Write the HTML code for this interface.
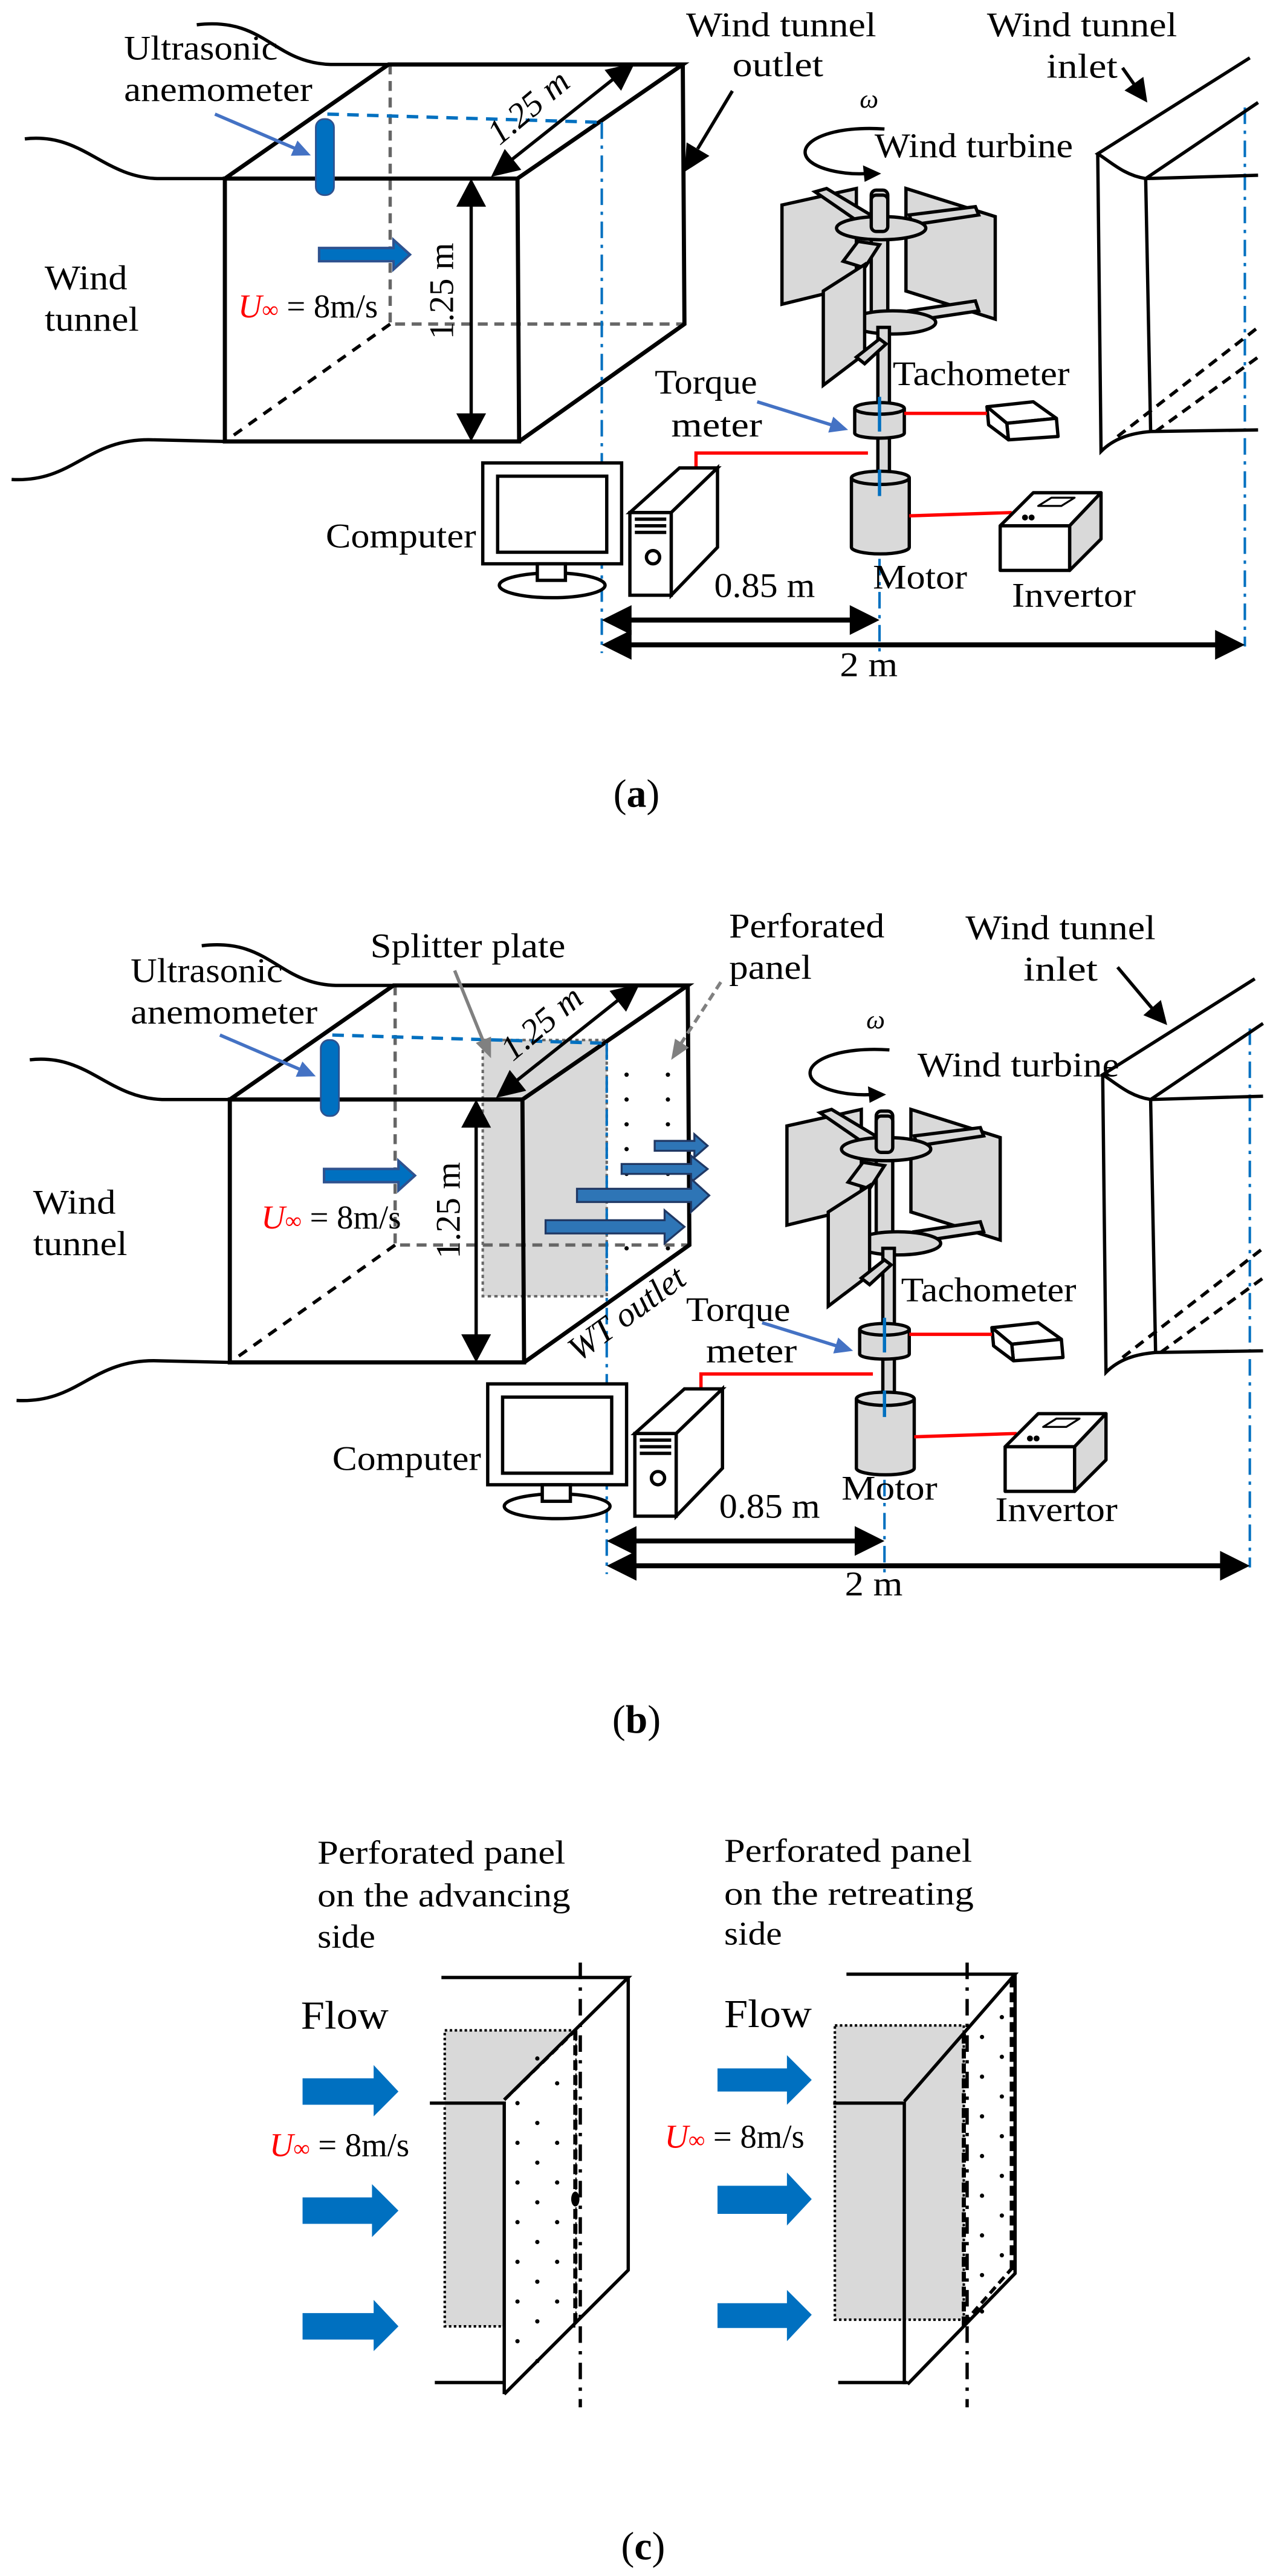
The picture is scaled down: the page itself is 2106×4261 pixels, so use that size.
<!DOCTYPE html>
<html><head><meta charset="utf-8"><style>
html,body{margin:0;padding:0;background:#fff;}
svg{display:block;width:2106px;height:4261px;}
text{font-family:"Liberation Serif",serif;fill:#000;}
</style></head><body>
<svg width="2106" height="4261" viewBox="0 0 770 1558" xmlns="http://www.w3.org/2000/svg">
<rect x="0" y="0" width="770" height="1558" fill="#fff"/>

<!-- ===== Panel a apparatus ===== -->
<g>
 <g fill="none" stroke="#000" stroke-width="2">
  <path d="M119,15 C160,10 165,38 200,39 L235,39"/>
  <path d="M15,84 C50,80 62,107 95,108 L136,108"/>
  <path d="M7,290 C45,292 52,265 92,266 L136,267"/>
 </g>
 <path d="M236,39 V196 H414" fill="none" stroke="#666" stroke-width="2" stroke-dasharray="6,4"/>
 <path d="M236,196 L136,267" fill="none" stroke="#000" stroke-width="2" stroke-dasharray="6,5"/>
 <g fill="none" stroke="#000" stroke-width="2.5">
  <path d="M136,108 H313 L314,267 H136 Z"/>
  <path d="M136,108 L235,39 H413 L313,108"/>
  <path d="M413,39 L414,196 L314,267"/>
 </g>
 <path d="M198,69 L364,74" stroke="#0070c0" stroke-width="2" stroke-dasharray="7,5" fill="none"/>
 <g stroke="#0070c0" stroke-width="1.5" stroke-dasharray="10,4,2,4" fill="none">
  <path d="M364,74 V395"/><path d="M532,238 V395"/><path d="M753,65 V391"/>
 </g>
 <rect x="191" y="72" width="11" height="46" rx="5" fill="#0070c0" stroke="#2f528f" stroke-width="1"/>
 <line x1="130" y1="69" x2="178" y2="89.6" stroke="#4472c4" stroke-width="2"/>
 <polygon points="188,94 179.9,85 175.9,94.2" fill="#4472c4"/>
 <polygon points="193,150 238,150 238,145 248,154 238,163 238,158 193,158" fill="#0070c0" stroke="#2f528f" stroke-width="1.5"/>
 <line x1="285" y1="124" x2="285" y2="251" stroke="#000" stroke-width="2"/>
 <polygon points="285,108 276,125 294,125"/><polygon points="285,267 276,250 294,250"/>
 <line x1="309" y1="97" x2="372" y2="47" stroke="#000" stroke-width="2"/>
 <polygon points="384,38 375.7,54.9 365.7,42.3"/><polygon points="297,107 315.3,102.7 305.3,90.1"/>
 <g stroke="#000" stroke-width="2" fill="#d9d9d9">
  <polygon points="473,124 518,114 518,173 473,184"/>
  <polygon points="493,116 500,114 530,132 522,136"/>
  <polygon points="548,114 602,131 602,193 548,176"/>
  <polygon points="550,130 590,125 592,130 552,136"/>
  <polygon points="550,188 590,182 592,188 552,194"/>
  <rect x="527" y="115" width="10" height="85" rx="3"/>
  <ellipse cx="533" cy="138" rx="27" ry="7"/>
  <rect x="527" y="118" width="10" height="22" rx="3"/>
  <ellipse cx="540" cy="195" rx="26" ry="7"/>
  <rect x="531" y="198" width="7" height="92"/>
  <polygon points="510,158 519,146 532,148 523,162"/>
  <polygon points="498,176 523,160 523,214 498,233"/>
  <polygon points="518,216 532,205 536,208 523,220"/>
  <path d="M517,247 V262 A15,3 0 0 0 547,262 V247"/>
  <ellipse cx="532" cy="247" rx="15" ry="3.5"/>
  <path d="M515,289 V331 A17.5,4 0 0 0 550,331 V289"/>
  <ellipse cx="532.5" cy="289" rx="17.5" ry="4"/>
 </g>
 <line x1="532" y1="240" x2="532" y2="261" stroke="#0070c0" stroke-width="2"/>
 <line x1="532" y1="284" x2="532" y2="300" stroke="#0070c0" stroke-width="2"/>
 <line x1="458" y1="243" x2="503" y2="257" stroke="#4472c4" stroke-width="2"/>
 <polygon points="513,260 501,261.6 504,252" fill="#4472c4"/>
 <g stroke="#000" stroke-width="2" fill="#fff" stroke-linejoin="round">
  <polygon points="597,246 625,243 639,253 609,256"/>
  <polygon points="609,256 639,253 640,264 610,266"/>
  <polygon points="597,246 609,256 610,266 598,257"/>
 </g>
 <g stroke="#f00" stroke-width="2" fill="none">
  <path d="M547,250 H597"/><path d="M421,283 V274 H525"/><path d="M550,312 L612,310"/>
 </g>
 <g stroke="#000" stroke-width="2" stroke-linejoin="round">
  <polygon points="605,318 625,298 666,298 647,318" fill="#fff"/>
  <polygon points="647,318 666,298 666,326 647,345" fill="#d9d9d9"/>
  <rect x="605" y="318" width="42" height="27" fill="#fff"/>
  <polygon points="628,306 636,301 650,301 642,306" fill="#fff" stroke-width="1.2"/>
 </g>
 <circle cx="620" cy="313" r="1.8"/><circle cx="624" cy="313" r="1.8"/>
 <g stroke="#000" stroke-width="2" fill="#fff">
  <rect x="292" y="280" width="84" height="61"/>
  <rect x="301" y="288" width="66" height="46"/>
  <ellipse cx="334" cy="354" rx="32" ry="7.5"/>
  <rect x="325" y="341" width="17" height="10"/>
  <polygon points="381,310 411,283 434,283 406,310"/>
  <polygon points="406,310 434,283 434,331 406,360"/>
  <rect x="381" y="310" width="25" height="50"/>
  <line x1="384" y1="314" x2="403" y2="314"/><line x1="384" y1="318" x2="403" y2="318"/><line x1="384" y1="322" x2="403" y2="322"/>
  <circle cx="395" cy="337" r="4"/>
 </g>
 <line x1="380" y1="375" x2="516" y2="375" stroke="#000" stroke-width="3"/>
 <polygon points="364,375 382,366 382,384"/><polygon points="532,375 514,366 514,384"/>
 <line x1="380" y1="390" x2="737" y2="390" stroke="#000" stroke-width="3"/>
 <polygon points="364,390 382,381 382,399"/><polygon points="753,390 735,381 735,399"/>
 <g fill="none" stroke="#000" stroke-width="2">
  <path d="M756,35 L664,93 C672,98 680,106 693,108 L761,106"/>
  <path d="M693,108 L761,62"/>
  <path d="M664,93 L666,273 C674,265 684,262 696,261 L761,260"/>
  <path d="M693,108 L696,261"/>
 </g>
 <g fill="none" stroke="#000" stroke-width="2" stroke-dasharray="6,4">
  <path d="M676,264 L761,198"/><path d="M699,261 L761,216"/>
 </g>
</g>

<g font-size="21">
 <text x="75" y="36" textLength="93" lengthAdjust="spacingAndGlyphs">Ultrasonic</text>
 <text x="75" y="61" textLength="114" lengthAdjust="spacingAndGlyphs">anemometer</text>
 <text x="415" y="22" textLength="115" lengthAdjust="spacingAndGlyphs">Wind tunnel</text>
 <text x="443" y="46" textLength="55" lengthAdjust="spacingAndGlyphs">outlet</text>
 <text x="597" y="22" textLength="115" lengthAdjust="spacingAndGlyphs">Wind tunnel</text>
 <text x="633" y="47" textLength="43" lengthAdjust="spacingAndGlyphs">inlet</text>
 <text x="27" y="175" textLength="50" lengthAdjust="spacingAndGlyphs">Wind</text>
 <text x="27" y="200" textLength="57" lengthAdjust="spacingAndGlyphs">tunnel</text>
 <text x="520" y="65" font-style="italic" font-size="16">ω</text>
 <text x="529" y="95" textLength="120" lengthAdjust="spacingAndGlyphs">Wind turbine</text>
 <text x="144" y="192" font-size="20"><tspan fill="#f00" font-style="italic">U</tspan><tspan fill="#f00" font-size="14">∞</tspan> = 8m/s</text>
 <text transform="translate(274,176) rotate(-90)" text-anchor="middle">1.25 m</text>
 <text transform="translate(324,70) rotate(-40)" text-anchor="middle" font-style="italic">1.25 m</text>
 <text x="396" y="238" textLength="62" lengthAdjust="spacingAndGlyphs">Torque</text>
 <text x="406" y="264" textLength="55" lengthAdjust="spacingAndGlyphs">meter</text>
 <text x="540" y="233" textLength="107" lengthAdjust="spacingAndGlyphs">Tachometer</text>
 <text x="528" y="356" textLength="57" lengthAdjust="spacingAndGlyphs">Motor</text>
 <text x="612" y="367" textLength="75" lengthAdjust="spacingAndGlyphs">Invertor</text>
 <text x="197" y="331" textLength="91" lengthAdjust="spacingAndGlyphs">Computer</text>
 <text x="432" y="361" textLength="61" lengthAdjust="spacingAndGlyphs">0.85 m</text>
 <text x="508" y="409" textLength="35" lengthAdjust="spacingAndGlyphs">2 m</text>
</g>
<line x1="443" y1="55" x2="422" y2="90" stroke="#000" stroke-width="2"/>
<polygon points="414,104 415.3,86.1 429.1,94.3"/>
<line x1="679" y1="41" x2="686" y2="51" stroke="#000" stroke-width="2"/>
<polygon points="694,62 680.2,54.7 691.6,46.5"/>
<path d="M535,78 C505,76 487,84 487,92 C487,101 508,106 524,105" fill="none" stroke="#000" stroke-width="2"/>
<polygon points="533,105 522,100 523,110"/>
<text x="385" y="488" font-size="24" text-anchor="middle">(<tspan font-weight="bold">a</tspan>)</text>

<!-- ===== Panel b ===== -->
<rect x="292" y="629" width="75" height="155" fill="#d9d9d9" stroke="#666" stroke-width="1.5" stroke-dasharray="2,2"/>
<g fill="#000">
 <circle cx="379" cy="650" r="1.3"/><circle cx="404" cy="650" r="1.3"/>
 <circle cx="379" cy="665" r="1.3"/><circle cx="404" cy="665" r="1.3"/>
 <circle cx="379" cy="680" r="1.3"/><circle cx="404" cy="680" r="1.3"/>
 <circle cx="379" cy="695" r="1.3"/><circle cx="404" cy="695" r="1.3"/>
 <circle cx="379" cy="710" r="1.3"/><circle cx="404" cy="710" r="1.3"/>
 <circle cx="379" cy="725" r="1.3"/><circle cx="404" cy="725" r="1.3"/>
 <circle cx="379" cy="740" r="1.3"/><circle cx="404" cy="740" r="1.3"/>
 <circle cx="379" cy="755" r="1.3"/><circle cx="404" cy="755" r="1.3"/>
</g>
<g transform="translate(3,557)">
 <g fill="none" stroke="#000" stroke-width="2">
  <path d="M119,15 C160,10 165,38 200,39 L235,39"/>
  <path d="M15,84 C50,80 62,107 95,108 L136,108"/>
  <path d="M7,290 C45,292 52,265 92,266 L136,267"/>
 </g>
 <path d="M236,39 V196 H414" fill="none" stroke="#666" stroke-width="2" stroke-dasharray="6,4"/>
 <path d="M236,196 L136,267" fill="none" stroke="#000" stroke-width="2" stroke-dasharray="6,5"/>
 <g fill="none" stroke="#000" stroke-width="2.5">
  <path d="M136,108 H313 L314,267 H136 Z"/>
  <path d="M136,108 L235,39 H413 L313,108"/>
  <path d="M413,39 L414,196 L314,267"/>
 </g>
 <path d="M198,69 L364,74" stroke="#0070c0" stroke-width="2" stroke-dasharray="7,5" fill="none"/>
 <g stroke="#0070c0" stroke-width="1.5" stroke-dasharray="10,4,2,4" fill="none">
  <path d="M364,74 V395"/><path d="M532,238 V395"/><path d="M753,65 V391"/>
 </g>
 <rect x="191" y="72" width="11" height="46" rx="5" fill="#0070c0" stroke="#2f528f" stroke-width="1"/>
 <line x1="130" y1="69" x2="178" y2="89.6" stroke="#4472c4" stroke-width="2"/>
 <polygon points="188,94 179.9,85 175.9,94.2" fill="#4472c4"/>
 <polygon points="193,150 238,150 238,145 248,154 238,163 238,158 193,158" fill="#0070c0" stroke="#2f528f" stroke-width="1.5"/>
 <line x1="285" y1="124" x2="285" y2="251" stroke="#000" stroke-width="2"/>
 <polygon points="285,108 276,125 294,125"/><polygon points="285,267 276,250 294,250"/>
 <line x1="309" y1="97" x2="372" y2="47" stroke="#000" stroke-width="2"/>
 <polygon points="384,38 375.7,54.9 365.7,42.3"/><polygon points="297,107 315.3,102.7 305.3,90.1"/>
 <g stroke="#000" stroke-width="2" fill="#d9d9d9">
  <polygon points="473,124 518,114 518,173 473,184"/>
  <polygon points="493,116 500,114 530,132 522,136"/>
  <polygon points="548,114 602,131 602,193 548,176"/>
  <polygon points="550,130 590,125 592,130 552,136"/>
  <polygon points="550,188 590,182 592,188 552,194"/>
  <rect x="527" y="115" width="10" height="85" rx="3"/>
  <ellipse cx="533" cy="138" rx="27" ry="7"/>
  <rect x="527" y="118" width="10" height="22" rx="3"/>
  <ellipse cx="540" cy="195" rx="26" ry="7"/>
  <rect x="531" y="198" width="7" height="92"/>
  <polygon points="510,158 519,146 532,148 523,162"/>
  <polygon points="498,176 523,160 523,214 498,233"/>
  <polygon points="518,216 532,205 536,208 523,220"/>
  <path d="M517,247 V262 A15,3 0 0 0 547,262 V247"/>
  <ellipse cx="532" cy="247" rx="15" ry="3.5"/>
  <path d="M515,289 V331 A17.5,4 0 0 0 550,331 V289"/>
  <ellipse cx="532.5" cy="289" rx="17.5" ry="4"/>
 </g>
 <line x1="532" y1="240" x2="532" y2="261" stroke="#0070c0" stroke-width="2"/>
 <line x1="532" y1="284" x2="532" y2="300" stroke="#0070c0" stroke-width="2"/>
 <line x1="458" y1="243" x2="503" y2="257" stroke="#4472c4" stroke-width="2"/>
 <polygon points="513,260 501,261.6 504,252" fill="#4472c4"/>
 <g stroke="#000" stroke-width="2" fill="#fff" stroke-linejoin="round">
  <polygon points="597,246 625,243 639,253 609,256"/>
  <polygon points="609,256 639,253 640,264 610,266"/>
  <polygon points="597,246 609,256 610,266 598,257"/>
 </g>
 <g stroke="#f00" stroke-width="2" fill="none">
  <path d="M547,250 H597"/><path d="M421,283 V274 H525"/><path d="M550,312 L612,310"/>
 </g>
 <g stroke="#000" stroke-width="2" stroke-linejoin="round">
  <polygon points="605,318 625,298 666,298 647,318" fill="#fff"/>
  <polygon points="647,318 666,298 666,326 647,345" fill="#d9d9d9"/>
  <rect x="605" y="318" width="42" height="27" fill="#fff"/>
  <polygon points="628,306 636,301 650,301 642,306" fill="#fff" stroke-width="1.2"/>
 </g>
 <circle cx="620" cy="313" r="1.8"/><circle cx="624" cy="313" r="1.8"/>
 <g stroke="#000" stroke-width="2" fill="#fff">
  <rect x="292" y="280" width="84" height="61"/>
  <rect x="301" y="288" width="66" height="46"/>
  <ellipse cx="334" cy="354" rx="32" ry="7.5"/>
  <rect x="325" y="341" width="17" height="10"/>
  <polygon points="381,310 411,283 434,283 406,310"/>
  <polygon points="406,310 434,283 434,331 406,360"/>
  <rect x="381" y="310" width="25" height="50"/>
  <line x1="384" y1="314" x2="403" y2="314"/><line x1="384" y1="318" x2="403" y2="318"/><line x1="384" y1="322" x2="403" y2="322"/>
  <circle cx="395" cy="337" r="4"/>
 </g>
 <line x1="380" y1="375" x2="516" y2="375" stroke="#000" stroke-width="3"/>
 <polygon points="364,375 382,366 382,384"/><polygon points="532,375 514,366 514,384"/>
 <line x1="380" y1="390" x2="737" y2="390" stroke="#000" stroke-width="3"/>
 <polygon points="364,390 382,381 382,399"/><polygon points="753,390 735,381 735,399"/>
 <g fill="none" stroke="#000" stroke-width="2">
  <path d="M756,35 L664,93 C672,98 680,106 693,108 L761,106"/>
  <path d="M693,108 L761,62"/>
  <path d="M664,93 L666,273 C674,265 684,262 696,261 L761,260"/>
  <path d="M693,108 L696,261"/>
 </g>
 <g fill="none" stroke="#000" stroke-width="2" stroke-dasharray="6,4">
  <path d="M676,264 L761,198"/><path d="M699,261 L761,216"/>
 </g>
</g>
<g stroke="#203864" stroke-width="1.2" fill="#2e75b6">
 <polygon points="396,690 420,690 420,686 428,693 420,700 420,696 396,696"/>
 <polygon points="376,704 418,704 418,699 428,707 418,715 418,710 376,710"/>
 <polygon points="349,719 418,719 418,713 429,723 418,733 418,727 349,727"/>
 <polygon points="330,738 402,738 402,732 414,742 402,752 402,746 330,746"/>
</g>
<line x1="275" y1="587" x2="292" y2="629" stroke="#808080" stroke-width="2"/>
<polygon points="297,640 287.8,630.8 297,627" fill="#808080"/>
<line x1="436" y1="594" x2="412" y2="631" stroke="#808080" stroke-width="2" stroke-dasharray="5,3"/>
<polygon points="406,641 408.3,628.2 416.7,633.6" fill="#808080"/>
<line x1="676" y1="585" x2="697" y2="610" stroke="#000" stroke-width="2"/>
<polygon points="706,620 691.6,614 702.2,604.8"/>
<path d="M538,635 C508,633 490,641 490,649 C490,658 511,663 527,662" fill="none" stroke="#000" stroke-width="2"/>
<polygon points="536,662 525,657 526,667"/>
<g font-size="21">
 <text x="79" y="594" textLength="92" lengthAdjust="spacingAndGlyphs">Ultrasonic</text>
 <text x="79" y="619" textLength="113" lengthAdjust="spacingAndGlyphs">anemometer</text>
 <text x="224" y="579" textLength="118" lengthAdjust="spacingAndGlyphs">Splitter plate</text>
 <text x="441" y="567" textLength="94" lengthAdjust="spacingAndGlyphs">Perforated</text>
 <text x="441" y="592" textLength="50" lengthAdjust="spacingAndGlyphs">panel</text>
 <text x="584" y="568" textLength="115" lengthAdjust="spacingAndGlyphs">Wind tunnel</text>
 <text x="619" y="593" textLength="45" lengthAdjust="spacingAndGlyphs">inlet</text>
 <text x="20" y="734" textLength="50" lengthAdjust="spacingAndGlyphs">Wind</text>
 <text x="20" y="759" textLength="57" lengthAdjust="spacingAndGlyphs">tunnel</text>
 <text x="524" y="622" font-style="italic" font-size="16">ω</text>
 <text x="555" y="651" textLength="122" lengthAdjust="spacingAndGlyphs">Wind turbine</text>
 <text x="158" y="743" font-size="20"><tspan fill="#f00" font-style="italic">U</tspan><tspan fill="#f00" font-size="14">∞</tspan> = 8m/s</text>
 <text transform="translate(278,732) rotate(-90)" text-anchor="middle">1.25 m</text>
 <text transform="translate(332,624) rotate(-40)" text-anchor="middle" font-style="italic">1.25 m</text>
 <text transform="translate(350,824) rotate(-36)" font-style="italic">WT outlet</text>
 <text x="415" y="799" textLength="63" lengthAdjust="spacingAndGlyphs">Torque</text>
 <text x="427" y="824" textLength="55" lengthAdjust="spacingAndGlyphs">meter</text>
 <text x="545" y="787" textLength="106" lengthAdjust="spacingAndGlyphs">Tachometer</text>
 <text x="509" y="907" textLength="58" lengthAdjust="spacingAndGlyphs">Motor</text>
 <text x="602" y="920" textLength="74" lengthAdjust="spacingAndGlyphs">Invertor</text>
 <text x="201" y="889" textLength="90" lengthAdjust="spacingAndGlyphs">Computer</text>
 <text x="435" y="918" textLength="61" lengthAdjust="spacingAndGlyphs">0.85 m</text>
 <text x="511" y="965" textLength="35" lengthAdjust="spacingAndGlyphs">2 m</text>
</g>
<text x="385" y="1048" font-size="24" text-anchor="middle">(<tspan font-weight="bold">b</tspan>)</text>

<!-- ===== Panel c ===== -->
<g font-size="20">
 <text x="192" y="1127" textLength="150" lengthAdjust="spacingAndGlyphs">Perforated panel</text>
 <text x="192" y="1153" textLength="153" lengthAdjust="spacingAndGlyphs">on the advancing</text>
 <text x="192" y="1178" textLength="35" lengthAdjust="spacingAndGlyphs">side</text>
 <text x="438" y="1126" textLength="150" lengthAdjust="spacingAndGlyphs">Perforated panel</text>
 <text x="438" y="1152" textLength="151" lengthAdjust="spacingAndGlyphs">on the retreating</text>
 <text x="438" y="1176" textLength="35" lengthAdjust="spacingAndGlyphs">side</text>
 <text x="182" y="1227" font-size="24" textLength="53" lengthAdjust="spacingAndGlyphs">Flow</text>
 <text x="438" y="1226" font-size="24" textLength="53" lengthAdjust="spacingAndGlyphs">Flow</text>
 <text x="163" y="1304"><tspan fill="#f00" font-style="italic">U</tspan><tspan fill="#f00" font-size="14">∞</tspan> = 8m/s</text>
 <text x="402" y="1299"><tspan fill="#f00" font-style="italic">U</tspan><tspan fill="#f00" font-size="14">∞</tspan> = 8m/s</text>
</g>
<g fill="#0070c0">
 <polygon points="183,1257 226,1257 226,1249 241,1265 226,1280 226,1273 183,1273"/>
 <polygon points="183,1329 225,1329 225,1321 241,1337 225,1353 225,1345 183,1345"/>
 <polygon points="183,1399 226,1399 226,1391 241,1407 226,1422 226,1415 183,1415"/>
 <polygon points="434,1251 476,1251 476,1243 491,1258 476,1273 476,1265 434,1265"/>
 <polygon points="434,1322 476,1322 476,1314 491,1330 476,1346 476,1339 434,1339"/>
 <polygon points="434,1393 476,1393 476,1385 491,1400 476,1416 476,1408 434,1408"/>
</g>
<rect x="269" y="1228" width="79" height="179" fill="#d9d9d9" stroke="#000" stroke-width="1.5" stroke-dasharray="1.5,1.5"/>
<polygon points="305,1270 348,1227 348,1405 305,1448" fill="#fff"/>
<g fill="#000">
 <circle cx="325" cy="1245" r="1.3"/><circle cx="337" cy="1260" r="1.3"/><circle cx="313" cy="1272" r="1.3"/><circle cx="325" cy="1284" r="1.3"/>
 <circle cx="313" cy="1296" r="1.3"/><circle cx="337" cy="1296" r="1.3"/><circle cx="325" cy="1308" r="1.3"/>
 <circle cx="313" cy="1320" r="1.3"/><circle cx="337" cy="1320" r="1.3"/><circle cx="325" cy="1332" r="1.3"/>
 <circle cx="313" cy="1344" r="1.3"/><circle cx="337" cy="1344" r="1.3"/><circle cx="325" cy="1356" r="1.3"/>
 <circle cx="313" cy="1368" r="1.3"/><circle cx="337" cy="1368" r="1.3"/><circle cx="325" cy="1380" r="1.3"/>
 <circle cx="313" cy="1392" r="1.3"/><circle cx="337" cy="1392" r="1.3"/><circle cx="325" cy="1404" r="1.3"/>
 <circle cx="313" cy="1416" r="1.3"/><circle cx="325" cy="1428" r="1.3"/>
</g>
<line x1="351" y1="1187" x2="351" y2="1456" stroke="#000" stroke-width="2" stroke-dasharray="10,5,2,5"/>
<line x1="348" y1="1228" x2="348" y2="1405" stroke="#000" stroke-width="2.5" stroke-dasharray="6,3"/>
<ellipse cx="348" cy="1330" rx="2.5" ry="4.5"/>
<g fill="none" stroke="#000" stroke-width="2">
 <path d="M267,1196 H380 L305,1270"/>
 <path d="M380,1196 V1373 L305,1448"/>
 <path d="M260,1272 H305 V1448"/>
 <path d="M263,1441 H305"/>
</g>
<path d="M305,1270 L348,1228" stroke="#000" stroke-width="2" stroke-dasharray="5,3"/>
<polygon points="583,1227 612,1196 612,1375 583,1412" fill="#fff"/>
<rect x="505" y="1225" width="78" height="178" fill="#d9d9d9" stroke="#000" stroke-width="1.5" stroke-dasharray="1.5,1.5"/>
<g fill="#000">
 <circle cx="606" cy="1220" r="1.3"/><circle cx="594" cy="1232" r="1.3"/><circle cx="606" cy="1244" r="1.3"/>
 <circle cx="594" cy="1256" r="1.3"/><circle cx="606" cy="1268" r="1.3"/><circle cx="594" cy="1280" r="1.3"/>
 <circle cx="606" cy="1292" r="1.3"/><circle cx="594" cy="1304" r="1.3"/><circle cx="606" cy="1316" r="1.3"/>
 <circle cx="594" cy="1328" r="1.3"/><circle cx="606" cy="1340" r="1.3"/><circle cx="594" cy="1352" r="1.3"/>
 <circle cx="606" cy="1364" r="1.3"/><circle cx="594" cy="1376" r="1.3"/><circle cx="594" cy="1398" r="1.3"/>
</g>
<line x1="585" y1="1187" x2="585" y2="1456" stroke="#000" stroke-width="2" stroke-dasharray="10,5,2,5"/>
<line x1="612" y1="1196" x2="612" y2="1375" stroke="#000" stroke-width="2.5" stroke-dasharray="6,3"/>
<line x1="583" y1="1230" x2="583" y2="1410" stroke="#000" stroke-width="2.5" stroke-dasharray="6,3"/>
<g fill="none" stroke="#000" stroke-width="2">
 <path d="M512,1194 H614 L547,1271"/>
 <path d="M614,1194 V1375 L549,1442"/>
 <path d="M504,1272 H547 V1442"/>
 <path d="M507,1441 H549"/>
</g>
<path d="M583,1405 L612,1372" stroke="#000" stroke-width="2" stroke-dasharray="5,3"/>
<text x="389" y="1548" font-size="24" text-anchor="middle">(<tspan font-weight="bold">c</tspan>)</text>
</svg>
</body></html>
